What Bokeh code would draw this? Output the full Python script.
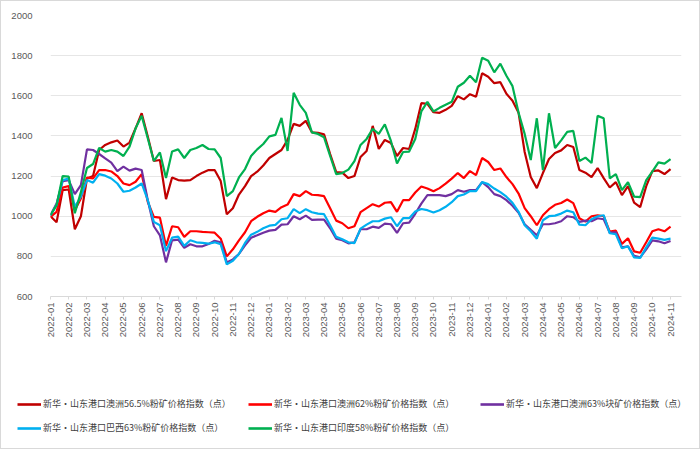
from bokeh.plotting import figure
from bokeh.layouts import column
from bokeh.models import Range1d, FixedTicker, Legend, LegendItem
from bokeh.embed import file_html
from bokeh.resources import INLINE

# x: sample index, three samples per month, starting 2022-01
month_labels = [f"{y}-{m:02d}" for y in (2022, 2023, 2024) for m in range(1, 13)][:35]
y_ticks = [600, 800, 1000, 1200, 1400, 1600, 1800, 2000]

names = [
    "新华·山东港口澳洲56.5%粉矿价格指数（点）",
    "新华·山东港口澳洲62%粉矿价格指数（点）",
    "新华·山东港口澳洲63%块矿价格指数（点）",
    "新华·山东港口巴西63%粉矿价格指数（点）",
    "新华·山东港口印度58%粉矿价格指数（点）",
]
colors = ["#C00000", "#FF0000", "#7030A0", "#00B0F0", "#00B050"]

aus565 = [1000, 970, 1130, 1133, 935, 1000, 1188, 1200, 1330, 1355, 1368, 1377, 1347, 1367, 1438, 1513, 1397, 1275,
          1280, 1085, 1193, 1180, 1177, 1180, 1200, 1217, 1230, 1230, 1175, 1010, 1040, 1108, 1150, 1200, 1222, 1253,
          1290, 1310, 1330, 1380, 1460, 1450, 1475, 1418, 1415, 1408, 1310, 1220, 1217, 1190, 1200, 1295, 1325, 1450,
          1335, 1380, 1365, 1300, 1340, 1335, 1435, 1563, 1560, 1518, 1515, 1530, 1550, 1598, 1582, 1608, 1595, 1712,
          1695, 1663, 1668, 1610, 1575, 1515, 1320, 1195, 1140, 1215, 1285, 1315, 1328, 1355, 1345, 1230, 1217, 1195,
          1240, 1190, 1143, 1170, 1105, 1150, 1068, 1045, 1150, 1225, 1228, 1210, 1235]
aus62 = [997, 1022, 1143, 1150, 1030, 1088, 1192, 1188, 1230, 1230, 1223, 1200, 1163, 1155, 1172, 1210, 1072, 997,
         993, 852, 950, 945, 897, 925, 925, 922, 920, 918, 888, 800, 835, 880, 920, 975, 997, 1015,
         1028, 1022, 1045, 1058, 1110, 1100, 1125, 1107, 1105, 1100, 1040, 978, 965, 940, 950, 1020, 1040, 1060,
         1048, 1067, 1070, 1022, 1080, 1080, 1118, 1148, 1138, 1124, 1140, 1162, 1187, 1215, 1190, 1225, 1205, 1290,
         1270, 1230, 1238, 1195, 1160, 1113, 1040, 1000, 955, 1005, 1035, 1057, 1066, 1083, 1065, 990, 973, 1000,
         1005, 1000, 923, 928, 862, 890, 825, 818, 870, 925, 935, 925, 948]
aus63lump = [1005, 1063, 1175, 1180, 1110, 1155, 1333, 1330, 1310, 1288, 1267, 1225, 1247, 1227, 1237, 1230, 1080, 950,
             905, 770, 880, 883, 843, 860, 850, 850, 862, 878, 870, 770, 785, 812, 855, 893, 905, 918,
             928, 932, 958, 960, 1000, 985, 1003, 982, 983, 983, 940, 888, 880, 865, 870, 935, 935, 948,
             942, 963, 960, 917, 965, 968, 1012, 1063, 1105, 1105, 1105, 1100, 1110, 1130, 1122, 1130, 1130, 1170,
             1145, 1110, 1100, 1080, 1052, 1017, 960, 932, 905, 960, 960, 965, 975, 1000, 995, 972, 978, 975,
             990, 985, 918, 920, 845, 850, 803, 795, 835, 880, 875, 865, 877]
bra63 = [1005, 1055, 1180, 1187, 1047, 1097, 1180, 1167, 1210, 1202, 1188, 1163, 1122, 1127, 1143, 1163, 1080, 972,
         955, 826, 893, 898, 852, 880, 870, 867, 863, 870, 860, 760, 778, 812, 867, 908, 922, 940,
         953, 957, 985, 990, 1035, 1015, 1035, 1020, 1013, 1010, 955, 897, 885, 870, 866, 938, 958, 975,
         975, 988, 995, 950, 990, 990, 1023, 1036, 1030, 1018, 1030, 1047, 1070, 1100, 1108, 1125, 1125, 1170,
         1160, 1138, 1120, 1097, 1067, 1022, 955, 925, 888, 980, 1000, 1003, 1013, 1028, 1020, 958, 955, 985,
         1000, 1005, 915, 910, 840, 850, 795, 792, 845, 893, 888, 882, 888]
ind58 = [1005, 1055, 1200, 1197, 1015, 1120, 1240, 1260, 1340, 1322, 1330, 1322, 1300, 1347, 1438, 1500, 1388, 1275,
         1318, 1190, 1322, 1333, 1290, 1330, 1340, 1355, 1335, 1333, 1290, 1100, 1125, 1193, 1235, 1300, 1333, 1360,
         1398, 1405, 1490, 1325, 1615, 1555, 1515, 1418, 1410, 1393, 1300, 1210, 1215, 1232, 1275, 1355, 1385, 1435,
         1410, 1458, 1375, 1263, 1320, 1322, 1385, 1522, 1570, 1522, 1540, 1555, 1570, 1645, 1665, 1700, 1667, 1790,
         1775, 1717, 1760, 1700, 1648, 1515, 1410, 1280, 1488, 1230, 1513, 1340, 1378, 1420, 1425, 1275, 1292, 1265,
         1500, 1488, 1188, 1210, 1130, 1170, 1098, 1095, 1180, 1222, 1268, 1262, 1285]

series = [aus565, aus62, aus63lump, bra63, ind58]
x = list(range(len(aus565)))

MAIN_H = 385
LEG_H = 62

p = figure(width=698, height=MAIN_H, output_backend="svg", toolbar_location=None,
           x_range=Range1d(0, 103.8), y_range=Range1d(600, 2000),
           min_border_left=49, min_border_right=18, min_border_top=14, min_border_bottom=MAIN_H - 295)
p.frame_align = False
p.outline_line_color = None
p.background_fill_color = "white"
p.border_fill_color = "white"

for vals, c in zip(series, colors):
    p.line(x, vals, line_color=c, line_width=2.2)

# axes
p.xaxis.ticker = FixedTicker(ticks=[3 * i for i in range(len(month_labels))])
p.xaxis.major_label_overrides = {3 * i: lab for i, lab in enumerate(month_labels)}
p.xaxis.major_label_orientation = 1.5708
p.xaxis.axis_line_color = "#d9d9d9"
p.xaxis.major_tick_line_color = "#d9d9d9"
p.xaxis.major_tick_out = 3
p.xaxis.major_tick_in = 0
p.xaxis.minor_tick_line_color = None
p.xaxis.major_label_standoff = 3
p.xaxis.major_label_text_font = "Liberation Sans"
p.xaxis.major_label_text_font_size = "9.5px"
p.xaxis.major_label_text_color = "#595959"

p.yaxis.ticker = FixedTicker(ticks=y_ticks)
p.yaxis.axis_line_color = None
p.yaxis.major_tick_line_color = None
p.yaxis.minor_tick_line_color = None
p.yaxis.major_label_standoff = 12
p.yaxis.major_label_text_font = "Liberation Sans"
p.yaxis.major_label_text_font_size = "9.5px"
p.yaxis.major_label_text_color = "#595959"

p.xgrid.grid_line_color = None
p.ygrid.grid_line_color = "#e6e6e6"
p.ygrid.ticker = FixedTicker(ticks=y_ticks)

# legend strip below the chart (series drawn outside its visible range; only the legend shows)
lp = figure(width=698, height=LEG_H, output_backend="svg", toolbar_location=None,
            x_axis_type=None, y_axis_type=None, x_range=Range1d(0, 1), y_range=Range1d(0, 1),
            min_border=0, min_border_left=0, min_border_right=0, min_border_top=0, min_border_bottom=0)
lp.frame_align = False
lp.outline_line_color = None
lp.xgrid.visible = False
lp.ygrid.visible = False
lp.border_fill_color = "white"
lp.background_fill_color = "white"

positions = [(16, 38), (247, 38), (479, 38), (16, 14), (247, 14)]
for name, c, vals, pos in zip(names, colors, series, positions):
    r = lp.line(x, vals, line_color=c, line_width=2.6)
    lg = Legend(items=[LegendItem(label=name, renderers=[r])], location=pos,
                padding=0, margin=0, spacing=0, glyph_width=24, glyph_height=12,
                label_height=12, label_standoff=2,
                label_text_font="Noto Sans CJK SC", label_text_font_size="9px",
                label_text_color="#404040", border_line_color=None,
                background_fill_alpha=0)
    lp.add_layout(lg, "center")

layout = column(p, lp, spacing=0, styles={"border": "1px solid #d9d9d9"})

open("out.html", "w").write(file_html(layout, INLINE))
